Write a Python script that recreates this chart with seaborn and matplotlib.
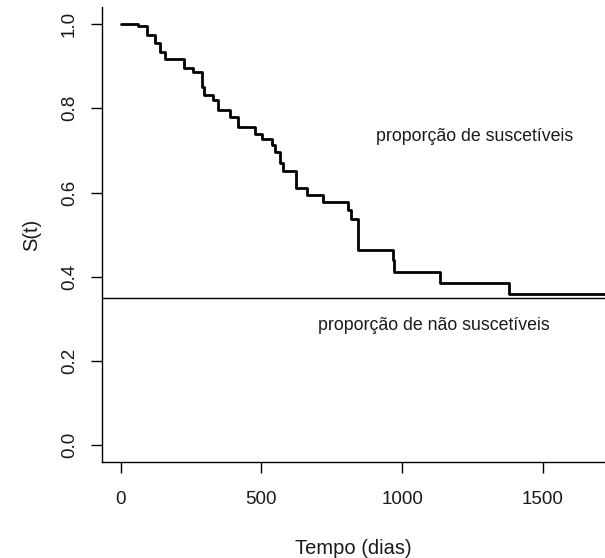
import matplotlib
matplotlib.use("Agg")
import matplotlib.pyplot as plt
import seaborn as sns
import pandas as pd

# Kaplan-Meier estimate: start of each step (days) and survival level
tempo = [0, 62, 92, 122, 140, 157, 226, 258, 290, 296, 329, 347, 388, 418,
         477, 501, 537, 548, 566, 576, 623, 661, 720, 807, 820, 845, 966,
         971, 1135, 1381, 1740]
sobrevida = [1.000, 0.995, 0.974, 0.954, 0.934, 0.916, 0.895, 0.887, 0.851,
             0.831, 0.819, 0.796, 0.780, 0.755, 0.740, 0.728, 0.713, 0.697,
             0.669, 0.651, 0.610, 0.594, 0.578, 0.558, 0.538, 0.463, 0.439,
             0.412, 0.384, 0.359, 0.359]

# estimated cure fraction
fracao_cura = 0.35

x_ticks = [0, 500, 1000, 1500]
y_ticks = [0.0, 0.2, 0.4, 0.6, 0.8, 1.0]
y_labels = ["0.0", "0.2", "0.4", "0.6", "0.8", "1.0"]

sns.set_style("ticks")
plt.rcParams["font.family"] = ["Liberation Sans", "DejaVu Sans"]

df = pd.DataFrame({"tempo": tempo, "S": sobrevida})

fig = plt.figure(figsize=(6.05, 5.58), dpi=100)
ax = fig.add_axes([0.168, 0.172, 1.0 - 0.168, 0.987 - 0.172])

sns.lineplot(data=df, x="tempo", y="S", ax=ax, color="black", linewidth=2.0,
             drawstyle="steps-post", estimator=None, sort=False)
ax.axhline(fracao_cura, color="black", linewidth=1.0)

txt_color = "#1a1a1a"
ax.text(1259, 0.734, "proporção de suscetíveis", ha="center", va="center",
        fontsize=12.8, color=txt_color)
ax.text(1114, 0.285, "proporção de não suscetíveis", ha="center", va="center",
        fontsize=12.8, color=txt_color)

ax.set_xlim(-67.5, 1721)
ax.set_ylim(-0.04, 1.04)
ax.set_xticks(x_ticks)
ax.set_xticklabels([str(v) for v in x_ticks], fontsize=13.5, color=txt_color)
ax.set_yticks(y_ticks)
ax.set_yticklabels(y_labels, fontsize=13.5, color=txt_color, rotation=90,
                   va="center")
ax.tick_params(axis="both", length=8, width=1.0, color="black")
ax.tick_params(axis="x", pad=13)
ax.tick_params(axis="y", pad=9)
ax.set_xlabel("Tempo (dias)", fontsize=14.5, color=txt_color, labelpad=22)
ax.set_ylabel("S(t)", fontsize=14.5, color=txt_color, labelpad=14)

for side in ("top", "right"):
    ax.spines[side].set_visible(False)
for side in ("left", "bottom"):
    ax.spines[side].set_color("black")
    ax.spines[side].set_linewidth(1.0)

fig.savefig("out.png", dpi=100, facecolor="white")
